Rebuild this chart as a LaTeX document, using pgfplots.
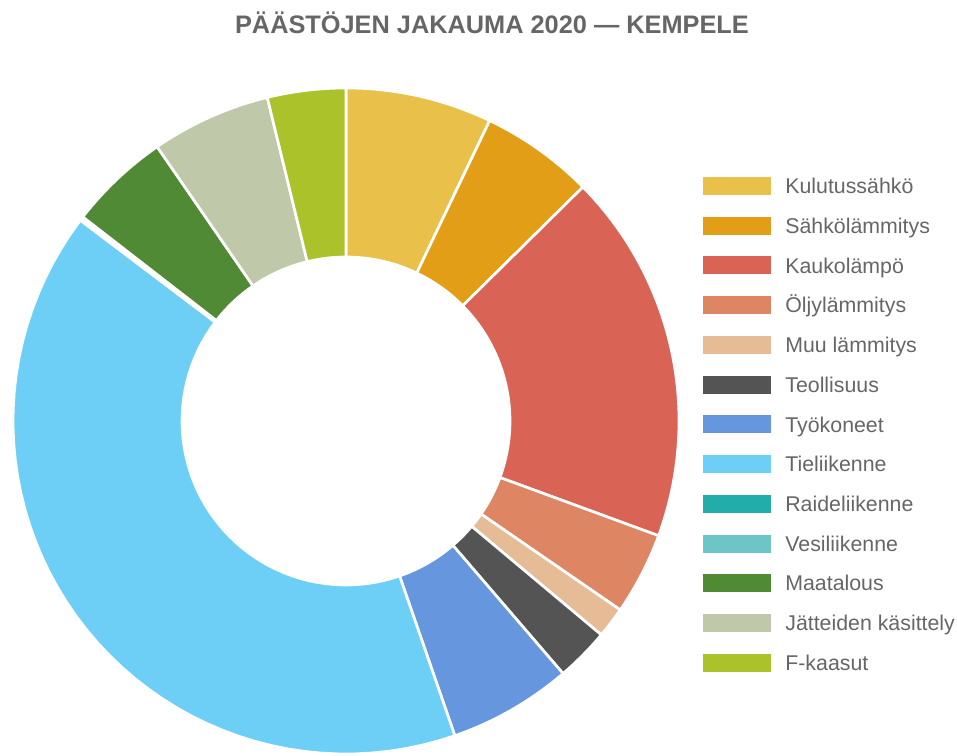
\documentclass[border=0pt]{standalone}
\usepackage{fontspec}
\setmainfont{Liberation Sans}
\usepackage{pgfplots}
\usepackage{pgfplotstable}
\pgfplotsset{compat=1.18}
\definecolor{c1}{HTML}{E8C04A}
\definecolor{c2}{HTML}{E39E17}
\definecolor{c3}{HTML}{D96455}
\definecolor{c4}{HTML}{DE8563}
\definecolor{c5}{HTML}{E6BC96}
\definecolor{c6}{HTML}{545454}
\definecolor{c7}{HTML}{6596DE}
\definecolor{c8}{HTML}{6DCFF6}
\definecolor{c9}{HTML}{22ADAA}
\definecolor{c10}{HTML}{6CC5C6}
\definecolor{c11}{HTML}{508A35}
\definecolor{c12}{HTML}{C0C8AA}
\definecolor{c13}{HTML}{ACC22A}
\definecolor{txt}{HTML}{666666}

\pgfplotstableread[col sep=comma]{
label,value,color
Kulutussähkö,7.1,c1
Sähkölämmitys,5.5,c2
Kaukolämpö,18.0,c3
Öljylämmitys,4.0,c4
Muu lämmitys,1.5,c5
Teollisuus,2.6,c6
Työkoneet,6.0,c7
Tieliikenne,40.6,c8
Raideliikenne,0.1,c9
Vesiliikenne,0.1,c10
Maatalous,4.9,c11
Jätteiden käsittely,5.8,c12
F-kaasut,3.8,c13
}\emissions

\begin{document}
\begin{tikzpicture}
\begin{axis}[
  scale only axis, width=717.75pt, height=567pt,
  xmin=0, xmax=957, ymin=0, ymax=756,
  axis line style={draw=none}, xtick=\empty, ytick=\empty, clip=false,
  legend style={at={(axis cs:703,579)}, anchor=north west, draw=none, fill=none,
    inner sep=0pt, outer sep=0pt, row sep=16.3pt,
    font=\fontsize{16}{19}\selectfont, text=txt,
    cells={anchor=west},
    nodes={inner sep=0pt, text height=11.5pt, text depth=0pt}},
  legend image code/.code={\fill[#1,draw=none] (0pt,-6.75pt) rectangle (51pt,6.75pt); \path (60.75pt,0pt);},
]
\pgfplotstablegetrowsof{\emissions}
\pgfmathtruncatemacro{\nrows}{\pgfplotsretval-1}
\def\total{0}
\pgfplotsforeachungrouped \i in {0,...,\nrows}{%
  \pgfplotstablegetelem{\i}{value}\of\emissions
  \pgfmathsetmacro{\total}{\total+\pgfplotsretval}%
}
\def\cum{0}
\pgfplotsforeachungrouped \i in {0,...,\nrows}{%
  \pgfplotstablegetelem{\i}{value}\of\emissions \let\val\pgfplotsretval
  \pgfplotstablegetelem{\i}{color}\of\emissions \let\col\pgfplotsretval
  \pgfplotstablegetelem{\i}{label}\of\emissions \let\lab\pgfplotsretval
  \pgfmathsetmacro{\pa}{90-360*(\cum/\total)}%
  \pgfmathsetmacro{\cum}{\cum+\val}%
  \pgfmathsetmacro{\pb}{90-360*(\cum/\total)}%
  \edef\doplot{%
    \noexpand\addplot[fill=\col, draw=white, line width=2pt, line join=round,
      samples at={0,1,...,50,100,101,...,150}]
      ({346+((x<=50)?333:164)*cos((x<=50)?(\pa+(\pb-\pa)*x/50):(\pb-(\pb-\pa)*(x-100)/50))},
       {335+((x<=50)?333:164)*sin((x<=50)?(\pa+(\pb-\pa)*x/50):(\pb-(\pb-\pa)*(x-100)/50))}) -- cycle;
    \noexpand\addlegendentry{\lab}%
  }%
  \doplot
}
\node[font=\fontsize{19}{23}\selectfont\bfseries, text=txt, anchor=base] at (axis cs:492,722) {PÄÄSTÖJEN JAKAUMA 2020 — KEMPELE};
\end{axis}
\end{tikzpicture}
\end{document}
